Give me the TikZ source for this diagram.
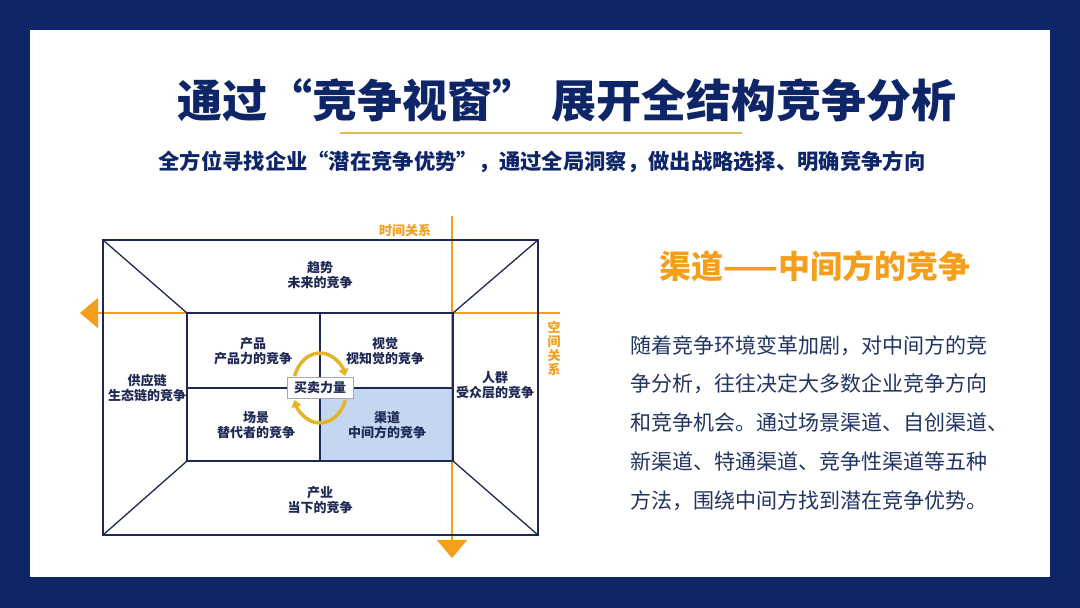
\documentclass[tikz,border=0pt]{standalone}
\usepackage{fontspec}
\setmainfont{Noto Sans CJK SC}
\definecolor{navy}{RGB}{14, 38, 104}
\definecolor{ink}{RGB}{30, 40, 84}
\definecolor{body}{RGB}{34, 52, 100}
\definecolor{gold}{RGB}{245, 158, 28}
\definecolor{swirl}{RGB}{228, 180, 40}
\definecolor{rule}{RGB}{226, 184, 96}
\definecolor{cell}{RGB}{197, 214, 240}
\usetikzlibrary{arrows.meta, calc}

\begin{document}
\begin{tikzpicture}[x=1pt, y=-1pt,
    lbl/.style={font=\bfseries\fontsize{13}{15.5}\selectfont, text=ink, align=center, inner sep=0pt},
    frame/.style={draw=ink, line width=1.3pt},
    axis/.style={draw=gold, line width=2pt, -{Triangle[width=30pt, length=18pt]}},
    turn/.style={draw=swirl, line width=3.5pt, -{Triangle[width=10pt, length=7pt]}}]
    \useasboundingbox (0,0) rectangle (1080,608);
    \fill[navy]  (0,0)   rectangle (1080,608);
    \fill[white] (30,30) rectangle (1050,577);

    % heading
    \node (title) [font=\bfseries\fontsize{45}{45}\selectfont, text=navy] at (567,100) {通过“竞争视窗”\hspace{0.3em}展开全结构竞争分析};
    \coordinate (rl) at (340,133);
    \coordinate (rr) at (742,133);
    \draw[rule, line width=1.2pt] (rl) -- (rr);
    \node (sub) [font=\bfseries\fontsize{21.3}{21.3}\selectfont, text=navy] at (542,162) {全方位寻找企业“潜在竞争优势”，通过全局洞察，做出战略选择、明确竞争方向};

    % window
    \coordinate (o1) at (103,240); \coordinate (o2) at (538,240);
    \coordinate (o3) at (538,535); \coordinate (o4) at (103,535);
    \coordinate (i1) at (187,313); \coordinate (i2) at (453,313);
    \coordinate (i3) at (453,461); \coordinate (i4) at (187,461);
    \coordinate (mt) at (320,313); \coordinate (mb) at (320,461);
    \coordinate (ml) at (187,388); \coordinate (mr) at (453,388);
    \coordinate (mc) at (320,388);
    \fill[cell] (mc) rectangle (i3);

    \coordinate (t0) at (452,216); \coordinate (t1) at (452,558);
    \coordinate (s0) at (560,313); \coordinate (s1) at (80,313);
    \draw[axis] (t0) -- (t1);
    \draw[axis] (s0) -- (s1);

    \draw[frame] (o1) rectangle (o3);
    \draw[frame] (i1) rectangle (i3);
    \draw[frame] (o1) -- (i1) (o2) -- (i2) (o3) -- (i3) (o4) -- (i4);
    \draw[frame] (mt) -- (mb) (ml) -- (mr);

    \draw[turn] ($(mc)+(200:27 and 35)$) arc[start angle=200, end angle=340, x radius=27, y radius=35];
    \draw[turn] ($(mc)+(20:27 and 35)$) arc[start angle=20, end angle=160, x radius=27, y radius=35];
    \node (trade) [draw=black!35, fill=white, font=\bfseries\fontsize{13}{13}\selectfont, text=ink,
        minimum width=66pt, minimum height=21pt, inner sep=0pt] at (mc) {买卖力量};

    \node (trend)  [lbl] at (320,275) {趋势\\未来的竞争};
    \node (supply) [lbl] at (147,388) {供应链\\生态链的竞争};
    \node (crowd)  [lbl] at (495,385) {人群\\受众层的竞争};
    \node (ind)    [lbl] at (320,500) {产业\\当下的竞争};
    \node (prod)   [lbl] at (253,351) {产品\\产品力的竞争};
    \node (sight)  [lbl] at (385,351) {视觉\\视知觉的竞争};
    \node (scene)  [lbl] at (256,425) {场景\\替代者的竞争};
    \node (chan)   [lbl] at (387,425) {渠道\\中间方的竞争};
    \node (time)   [lbl, text=gold] at (405,230) {时间关系};
    \node (space)  [lbl, text=gold, font=\bfseries\fontsize{13}{14}\selectfont] at (554,348) {空\\间\\关\\系};

    % right column
    \node (head) [font=\bfseries\fontsize{32}{32}\selectfont, text=gold] at (815,266) {渠道——中间方的竞争};
    \node (text) [anchor=base west, align=left, inner sep=0pt, text=body,
        font=\fontsize{21}{38.7}\selectfont] at (630,508)
        {随着竞争环境变革加剧，对中间方的竞\\争分析，往往决定大多数企业竞争方向\\和竞争机会。通过场景渠道、自创渠道、\\新渠道、特通渠道、竞争性渠道等五种\\方法，围绕中间方找到潜在竞争优势。};
\end{tikzpicture}
\end{document}
